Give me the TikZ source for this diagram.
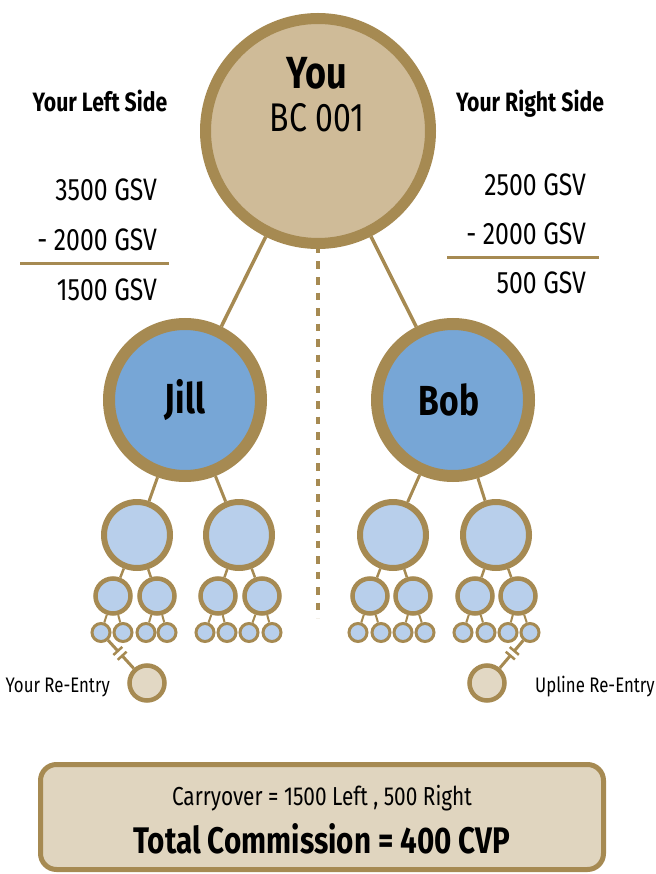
\documentclass[tikz,border=0pt]{standalone}
\usepackage{fontspec}
\setmainfont{Fira Sans}[FakeStretch=0.8]
\usetikzlibrary{calc}

\definecolor{gold}{RGB}{166,138,82}
\definecolor{youfill}{RGB}{207,187,152}
\definecolor{kidfill}{RGB}{119,166,214}
\definecolor{smallfill}{RGB}{184,207,235}
\definecolor{refill}{RGB}{226,216,196}
\definecolor{boxfill}{RGB}{224,213,191}

\newcommand{\fsz}[1]{\fontsize{#1}{#1}\selectfont}

\begin{document}
\begin{tikzpicture}[x=1pt,y=-1pt,
  bub/.style={circle,draw=gold,inner sep=0pt},
  youbub/.style={bub,fill=youfill,line width=11pt,minimum size=225pt},
  kidbub/.style={bub,fill=kidfill,line width=12pt,minimum size=152pt,font=\fsz{42}\bfseries},
  twobub/.style={bub,fill=smallfill,line width=6pt,minimum size=66pt},
  threebub/.style={bub,fill=smallfill,line width=4.5pt,minimum size=35pt},
  fourbub/.style={bub,fill=smallfill,line width=3pt,minimum size=18pt},
  rebub/.style={bub,fill=refill,line width=4.5pt,minimum size=35pt},
  link/.style={draw=gold,line width=#1},
  link/.default=3pt,
  sidehead/.style={font=\fsz{26.5}\bfseries,anchor=base},
  gsv/.style={font=\fsz{31},anchor=base east,inner sep=0pt},
  relabel/.style={font=\fsz{21},inner sep=0pt}]

\useasboundingbox (0,0) rectangle (655,874);

% You and the two legs
\node[youbub] (you) at (318,131) {};
\node[anchor=base,font=\fsz{45}\bfseries] (youname) at (317,89) {You};
\node[anchor=base,font=\fsz{40}] (youid) at (317,132) {BC 001};

\node[kidbub] (jill) at (185,400) {Jill};
\node[kidbub] (bob) at (453,400) {\hspace*{-8pt}Bob};
\draw[link=3.5pt] (you) -- (jill);
\draw[link=3.5pt] (you) -- (bob);

\coordinate (midend) at (318,618);
\draw[gold,line width=4pt,dash pattern=on 7.5pt off 8pt,dash phase=3pt] (you) -- (midend);

% left / right volumes
\node[sidehead] (lefthead) at (100,112) {Your Left Side};
\node[gsv] (lefta) at (157,201) {3500 GSV};
\node[gsv] (leftb) at (157,251) {- 2000 GSV};
\node[gsv] (leftc) at (157,300) {1500 GSV};
\draw[gold,line width=3pt] (20,264) -- (169,264);

\node[sidehead] (righthead) at (530,112) {Your Right Side};
\node[gsv] (righta) at (586,196) {2500 GSV};
\node[gsv] (rightb) at (586,245) {- 2000 GSV};
\node[gsv] (rightc) at (586,293) {500 GSV};
\draw[gold,line width=3pt] (447,258) -- (599,258);

% downline levels
\foreach \n/\x/\p in {a/137/jill,b/239/jill,c/393/bob,d/496/bob} {
  \node[twobub] (two\n) at (\x,535) {};
  \draw[link] (\p) -- (two\n);
}
\foreach \n/\x/\p in {1/113/a,2/157/a,3/218/b,4/262/b,5/370/c,6/413/c,7/475/d,8/518/d} {
  \node[threebub] (three\n) at (\x,596) {};
  \draw[link=2.5pt] (two\p) -- (three\n);
}
\foreach \x [count=\i] in {101,123,146,167,205,227,249,272,358,381,403,425,463,486,508,530} {
  \pgfmathtruncatemacro{\p}{(\i+1)/2}
  \node[fourbub] (four\i) at (\x,632.5) {};
  \draw[link=2pt] (three\p) -- (four\i);
}

% re-entries
\node[rebub] (reyou) at (147,683) {};
\node[rebub] (reup) at (487,683) {};
\node[relabel,anchor=base east] (reyoutxt) at (110,692) {Your Re-Entry};
\node[relabel,anchor=base west] (reuptxt) at (535,692) {Upline Re-Entry};

\path (four1) -- (reyou) coordinate[pos=0.38] (cuta) coordinate[pos=0.55] (cutb);
\draw[link] (four1) -- (cuta) (cutb) -- (reyou);
\draw[link=2.5pt] ($(cuta)!6pt!90:(four1)$) -- ($(cuta)!6pt!-90:(four1)$);
\draw[link=2.5pt] ($(cutb)!6pt!90:(reyou)$) -- ($(cutb)!6pt!-90:(reyou)$);

\path (four16) -- (reup) coordinate[pos=0.38] (cutc) coordinate[pos=0.55] (cutd);
\draw[link] (four16) -- (cutc) (cutd) -- (reup);
\draw[link=2.5pt] ($(cutc)!6pt!90:(four16)$) -- ($(cutc)!6pt!-90:(four16)$);
\draw[link=2.5pt] ($(cutd)!6pt!90:(reup)$) -- ($(cutd)!6pt!-90:(reup)$);

% summary
\node[draw=gold,fill=boxfill,line width=5pt,rounded corners=16pt,minimum width=563pt,minimum height=105pt] (sumbox) at (322,817) {};
\node[anchor=base,font=\fsz{26}] (carry) at (322,805) {Carryover = 1500 Left , 500 Right};
\node[anchor=base,font=\fsz{37}\bfseries] (total) at (322,853) {Total Commission = 400 CVP};

\end{tikzpicture}
\end{document}
